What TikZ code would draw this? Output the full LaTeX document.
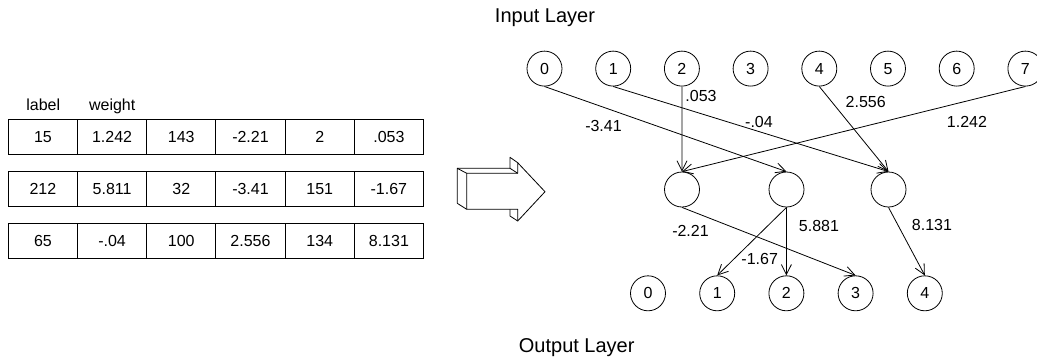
\documentclass[tikz,border=0pt]{standalone}
\usepackage{fontspec}
\setmainfont{Liberation Sans}
\usetikzlibrary{arrows.meta}
\begin{document}
\begin{tikzpicture}[x=1pt,y=-1pt,
  every node/.style={font=\fontsize{16}{19}\selectfont, inner sep=0pt},
  neuron/.style={draw, circle, minimum size=35pt, line width=0.8pt},
  cell/.style={draw, minimum width=69.2pt, minimum height=35pt, line width=0.9pt},
  wire/.style={line width=0.8pt, -{Straight Barb[length=10pt,width=10pt]}},
  heading/.style={font=\fontsize{20}{24}\selectfont, anchor=base},
  colhead/.style={anchor=base},
  outline/.style={line width=0.8pt, line join=round}]
\useasboundingbox (0,0) rectangle (1037,360);

% ---- weight table ----
\node[colhead] (lbl) at (43.3,110) {label};
\node[colhead] (wgt) at (112.2,110) {weight};
\foreach \v [count=\c] in {15,1.242,143,-2.21,2,.053}
  \node[cell] (r1c\c) at ({8.3+69.2*(\c-0.5)},136.8) {\v};
\foreach \v [count=\c] in {212,5.811,32,-3.41,151,-1.67}
  \node[cell] (r2c\c) at ({8.3+69.2*(\c-0.5)},189.2) {\v};
\foreach \v [count=\c] in {65,-.04,100,2.556,134,8.131}
  \node[cell] (r3c\c) at ({8.3+69.2*(\c-0.5)},241.2) {\v};

% ---- 3D block arrow ----
\draw[outline] (466.7,173.3) -- (517.7,173.3) -- (517.7,162.7) -- (545,191.7)
  -- (517.7,221) -- (517.7,209.3) -- (466.7,209.3) -- cycle;
\draw[outline] (466.7,173.3) -- (457.3,168.3) -- (457.3,203.3) -- (466.7,209.3);
\draw[outline] (457.3,168.3) -- (510,168.3) -- (517.7,173.3);
\draw[outline] (517.7,162.7) -- (510,157.3) -- (510,168.3);
\draw[outline] (510,209.3) -- (510,216) -- (517.7,221);

% ---- network ----
\node[heading] (inTitle) at (545,22.7) {Input Layer};
\node[heading] (outTitle) at (576.7,352.7) {Output Layer};

\foreach \i in {0,...,7}
  \node[neuron] (in\i) at ({544.5+68.7*\i},68.6) {\i};
\node[neuron] (h1) at (682,189.5) {};
\node[neuron] (h2) at (786.5,189.5) {};
\node[neuron] (h3) at (888.5,189.5) {};
\foreach \i in {0,...,4}
  \node[neuron] (out\i) at ({648+69.2*\i},293.3) {\i};

\draw[wire] (in0.south) -- (h2.north);
\draw[wire] (in1.south) -- (h3.north);
\draw[wire] (in2.south) -- (h1.north);
\draw[wire] (in4.south) -- (h3.north);
\draw[wire] (in7.south) -- (h1.north);
\draw[wire] (h1.south) -- (out3.north);
\draw[wire] (h2.south) -- (out1.north);
\draw[wire] (h2.south) -- (out2.north);
\draw[wire] (h3.south) -- (out4.north);

\node (w053) at (701,96) {.053};
\node (w341) at (603.5,125.8) {-3.41};
\node (w004) at (759,121.7) {-.04};
\node (w2556) at (865.7,101.9) {2.556};
\node (w1242) at (967,121.7) {1.242};
\node (w221) at (690.5,230.7) {-2.21};
\node (w5881) at (819,225.7) {5.881};
\node (w167) at (759.7,259.3) {-1.67};
\node (w8131) at (932,225) {8.131};
\end{tikzpicture}
\end{document}
